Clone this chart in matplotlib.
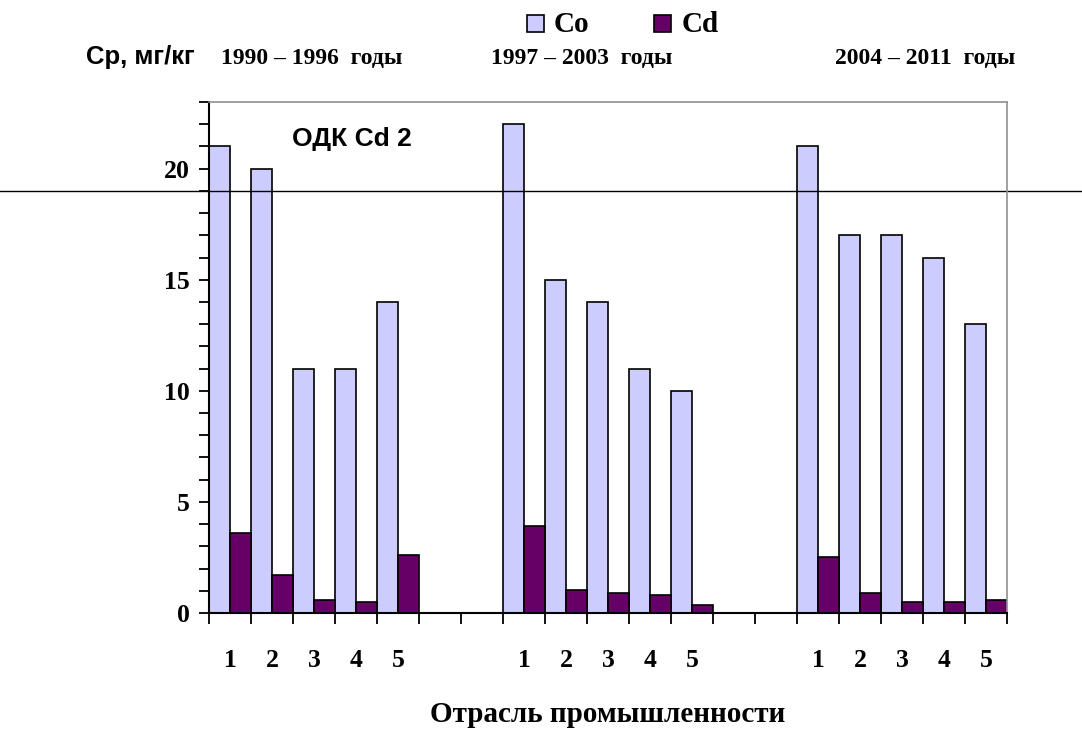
import numpy as np
import matplotlib.pyplot as plt
from matplotlib import transforms
from matplotlib.patches import Rectangle

# data
periods = ['1990 – 1996  годы', '1997 – 2003  годы', '2004 – 2011  годы']
branches = ['1', '2', '3', '4', '5']
co_values = [
    [21, 20, 11, 11, 14],
    [22, 15, 14, 11, 10],
    [21, 17, 17, 16, 13],
]
cd_values = [
    [3.6, 1.7, 0.6, 0.5, 2.6],
    [3.9, 1.05, 0.9, 0.8, 0.35],
    [2.5, 0.9, 0.5, 0.5, 0.6],
]
odk_cd = 19

co_color = '#CCCCFF'
cd_color = '#660066'
serif = 'Liberation Serif'
sans = 'Liberation Sans'

W, H = 1082, 731
fig = plt.figure(figsize=(W / 100, H / 100), dpi=100)
ax = fig.add_axes([209 / W, 1 - 613 / H, 798 / W, 511 / H])

group_step = 7
n_slots = group_step * (len(periods) - 1) + len(branches)

for g in range(len(periods)):
    x = np.arange(len(branches)) + g * group_step
    ax.bar(x, co_values[g], width=0.5, align='edge', color=co_color,
           edgecolor='black', linewidth=1.2)
    ax.bar(x + 0.5, cd_values[g], width=0.5, align='edge', color=cd_color,
           edgecolor='black', linewidth=1.2)

ax.set_xlim(0, n_slots)
ax.set_ylim(0, 23)

# x ticks at slot borders, labels in slot centres
ax.set_xticks(np.arange(n_slots + 1))
ax.set_xticklabels([])
lab_pos = []
lab_txt = []
for g in range(len(periods)):
    for j, b in enumerate(branches):
        lab_pos.append(g * group_step + j + 0.5)
        lab_txt.append(b)
ax.set_xticks(lab_pos, minor=True)
ax.set_xticklabels(lab_txt, minor=True, fontfamily=serif, fontweight='bold',
                   fontsize=18.5)
ax.tick_params(axis='x', which='major', direction='out', length=8, width=1.3)
ax.tick_params(axis='x', which='minor', length=0, pad=26)

ax.set_yticks([0, 5, 10, 15, 20])
ax.set_yticks([v for v in range(24) if v % 5 != 0], minor=True)
ax.set_yticklabels(['0', '5', '10', '15', '20'], fontfamily=serif,
                   fontweight='bold', fontsize=18.5)
ax.tick_params(axis='y', which='both', direction='out', length=7, width=1.3,
               pad=7)

for s in ['left', 'bottom']:
    ax.spines[s].set_linewidth(1.5)
    ax.spines[s].set_color('black')
for s in ['top', 'right']:
    ax.spines[s].set_linewidth(1.2)
    ax.spines[s].set_color('#909090')

# ОДК line across the whole picture
trans = transforms.blended_transform_factory(fig.transFigure, ax.transData)
ax.plot([0, 1], [odk_cd, odk_cd], color='black', linewidth=1,
        transform=trans, clip_on=False)
ax.text(3.4, 21.35, 'ОДК Cd 2', fontfamily=sans, fontweight='bold',
        fontsize=19, ha='center', va='center')

fig.text(0.5 * (209 + 1007) / W, 1 - 714 / H, 'Отрасль промышленности',
         fontfamily=serif, fontweight='bold', fontsize=21,
         ha='center', va='center')

fig.text(86 / W, 1 - 57 / H, 'Ср, мг/кг', fontfamily=sans,
         fontweight='bold', fontsize=18.5, ha='left', va='center')
for px, p in zip([221, 491, 835], periods):
    fig.text(px / W, 1 - 58 / H, p, fontfamily=serif, fontweight='bold',
             fontsize=17, ha='left', va='center')

# legend drawn by hand
for (sx, tx, name, col) in [(527, 554, 'Co', co_color), (654, 682, 'Cd', cd_color)]:
    fig.patches.append(Rectangle((sx / W, 1 - 32 / H), 17 / W, 17 / H,
                                 facecolor=col, edgecolor='black', linewidth=1.2,
                                 transform=fig.transFigure, figure=fig))
    fig.text(tx / W, 1 - 24 / H, name, fontfamily=serif, fontweight='bold',
             fontsize=21, ha='left', va='center')

fig.savefig('out.png', dpi=100)
